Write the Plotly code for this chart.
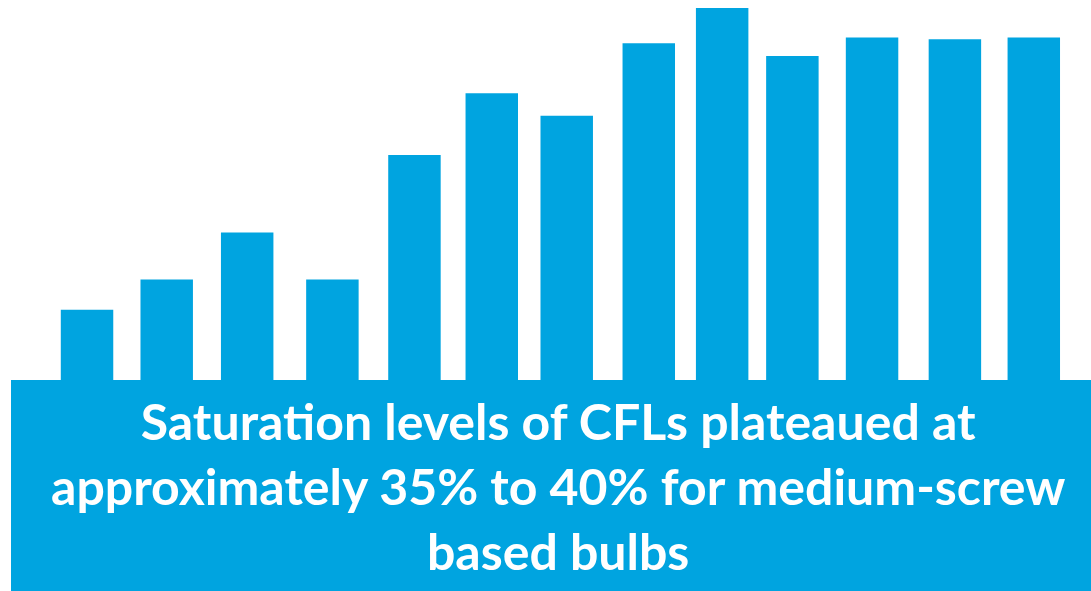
import plotly.graph_objects as go

# Data
periods = [0, 1.01, 2.03, 3.11, 4.15, 5.13, 6.08, 7.12, 8.05, 8.94, 9.95, 11.00, 12.00]
saturation = [9.2, 12.3, 17.1, 12.3, 25.0, 31.3, 29.0, 36.4, 40.0, 35.1, 37.0, 36.8, 37.0]
caption_lines = [
    "Saturation levels of CFLs plateaued at",
    "approximately 35% to 40% for medium-screw",
    "based bulbs",
]

BLUE = "#00A4E0"

fig = go.Figure()
fig.add_trace(go.Bar(
    x=periods, y=saturation, width=0.665,
    marker=dict(color=BLUE, line=dict(width=0)),
    hoverinfo="skip",
))

fig.add_shape(type="rect", xref="paper", yref="paper",
              x0=11/1091, x1=1, y0=0, y1=(591-380)/591,
              fillcolor=BLUE, line=dict(width=0), layer="above")

fig.add_annotation(
    xref="paper", yref="paper", x=558/1091, y=(591-486)/591,
    text="<br>".join(caption_lines), showarrow=False,
    font=dict(family="Lato", size=50, color="white", weight="bold"),
    align="center", xanchor="center", yanchor="middle",
)

fig.update_layout(
    width=1091, height=591,
    margin=dict(l=0, r=0, t=0, b=0),
    paper_bgcolor="white", plot_bgcolor="white",
    showlegend=False,
    xaxis=dict(range=[-1.103, 12.725], visible=False, fixedrange=True),
    yaxis=dict(range=[-19.49, 40.816], visible=False, fixedrange=True),
)

fig.write_html("out.html")
